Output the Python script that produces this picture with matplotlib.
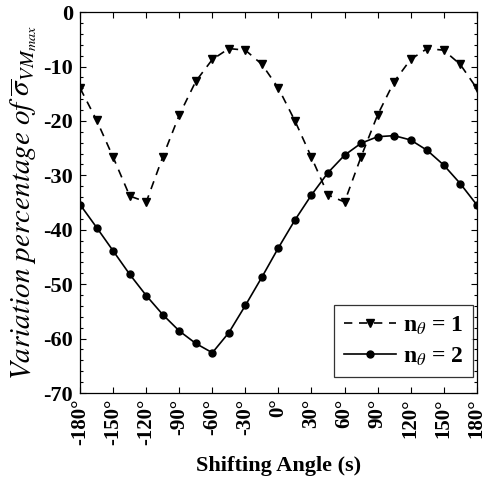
import numpy as np
import matplotlib
matplotlib.use("Agg")
import matplotlib.pyplot as plt
from matplotlib.ticker import MultipleLocator

# === Data ===
angles = [-180, -165, -150, -135, -120, -105, -90, -75, -60, -45, -30, -15, 0,
          15, 30, 45, 60, 75, 90, 105, 120, 135, 150, 165, 180]
n1 = [-14.0, -19.9, -26.7, -33.8, -34.9, -26.6, -18.9, -12.7, -8.7, -6.7, -7.0, -9.6, -14.0,
      -20.0, -26.7, -33.6, -34.9, -26.6, -18.9, -12.8, -8.7, -6.7, -7.0, -9.6, -14.0]
n2 = [-35.4, -39.6, -43.9, -48.2, -52.1, -55.6, -58.6, -60.9, -62.6, -58.9, -53.9, -48.7, -43.3,
      -38.2, -33.6, -29.5, -26.3, -24.1, -22.9, -22.7, -23.5, -25.4, -28.1, -31.5, -35.4]
xticks = list(range(-180, 181, 30))
xlabels = [f"{t}°" for t in xticks]

plt.rcParams["font.family"] = "Liberation Serif"
plt.rcParams["mathtext.fontset"] = "stix"
plt.rcParams["axes.unicode_minus"] = False

fig = plt.figure(figsize=(4.83, 4.84), dpi=100)
ax = fig.add_axes([0.166, 0.188, 0.821, 0.787])

ax.plot(angles, n1, linestyle=(0, (5, 4)), color="black", lw=1.2,
        marker="v", markersize=6, label=r"n$_{\theta}$ = 1")
ax.plot(angles, n2, linestyle="-", color="black", lw=1.2,
        marker="o", markersize=5, label=r"n$_{\theta}$ = 2")

ax.set_xlim(-180, 180)
ax.set_ylim(-70, 0)
ax.set_xticks(xticks)
ax.set_xticklabels(xlabels, rotation=90, fontsize=15, fontweight="bold")
ax.yaxis.set_major_locator(MultipleLocator(10))
ax.yaxis.set_minor_locator(MultipleLocator(2))
for lab in ax.get_yticklabels():
    lab.set_fontsize(16)
    lab.set_fontweight("bold")
ax.tick_params(direction="in", top=True, right=True, which="both", length=4, width=0.8)
ax.tick_params(which="minor", length=2.5)
ax.tick_params(axis="x", pad=4)
ax.tick_params(axis="y", pad=5)
for s in ax.spines.values():
    s.set_linewidth(0.9)

ax.set_xlabel("Shifting Angle (s)", fontsize=16, fontweight="bold", labelpad=8)
ax.set_ylabel(r"$Variation\ percentage\ of\ \overline{\sigma}_{VM_{max}}$", fontsize=21, labelpad=3)

leg = ax.legend(loc="lower right", bbox_to_anchor=(0.99, 0.042), borderaxespad=0,
                frameon=True, fancybox=False, edgecolor="black", handlelength=2.2,
                handletextpad=0.3, borderpad=0.4,
                prop={"weight": "bold", "size": 17}, labelspacing=0.35)
leg.get_frame().set_linewidth(0.9)

plt.savefig("out.png", dpi=100)
